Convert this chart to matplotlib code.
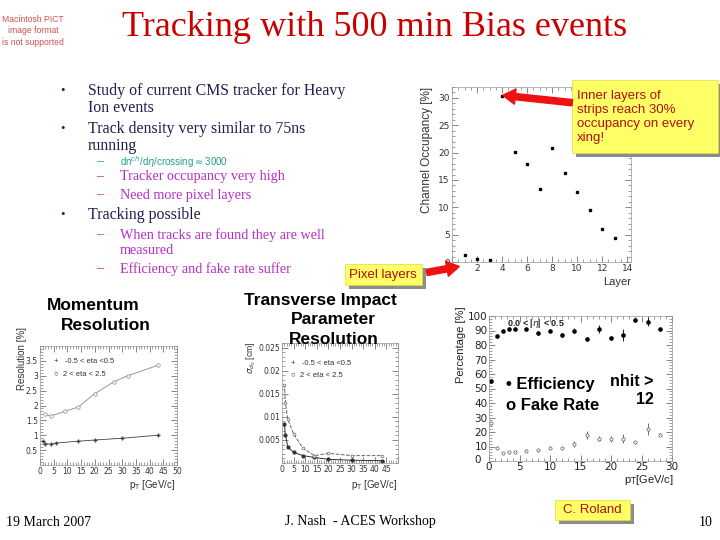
import numpy as np
import matplotlib.pyplot as plt
from matplotlib.patches import Rectangle, FancyArrowPatch
from matplotlib.transforms import ScaledTranslation

# ---- data ----
layers = [1, 2, 3, 4, 5, 6, 7, 8, 9, 10, 11, 12, 13]
occupancy = [1.2, 0.6, 0.3, 30.4, 20.1, 18.0, 13.4, 20.9, 16.3, 12.8, 9.5, 6.1, 4.4]

mom_pt_c = [1, 2, 4, 6, 14, 20, 30, 43]
mom_res_c = [0.80, 0.72, 0.70, 0.74, 0.80, 0.84, 0.90, 1.00]
mom_pt_f = [2, 4, 9, 14, 20, 27, 32, 43]
mom_res_f = [1.70, 1.65, 1.80, 1.95, 2.40, 2.80, 3.00, 3.35]

ip_pt = [1, 1.5, 2.5, 5, 9, 14, 20, 30, 43]
ip_res_c = [0.0085, 0.0060, 0.0035, 0.0023, 0.0016, 0.0012, 0.0008, 0.0006, 0.0005]
ip_res_f = [0.0170, 0.0130, 0.0095, 0.0063, 0.0032, 0.0016, 0.0021, 0.0016, 0.0016]

eff_pt = [0.25, 1.25, 2.25, 3.25, 4.25, 6, 8, 10, 12, 14, 16, 18, 20, 22, 24, 26, 28]
efficiency = [55, 86, 90, 91, 91, 91, 88, 90, 87, 90, 84, 91, 85, 87, 97, 96, 91]
eff_err = [1, 1, 0.5, 0.5, 0.5, 1, 1, 1, 1.5, 2, 1.5, 3, 1.5, 4, 1, 3, 1]
fake_rate = [26, 9, 5.5, 6, 6, 7, 7.5, 9, 9, 12, 18, 15.5, 15, 15.5, 13, 22, 18]
fake_err = [1, 1, 0.5, 0.5, 0.5, 1, 1, 1, 1, 2, 3, 2, 2, 3, 1, 4, 1]

bullets = [
    ("b", "Study of current CMS tracker for Heavy", 91),
    ("c", "Ion events", 108),
    ("b", "Track density very similar to 75ns", 129),
    ("c", "running", 146),
    ("s", "Tracker occupancy very high", 177),
    ("s", "Need more pixel layers", 195),
    ("b", "Tracking possible", 215),
    ("s", "When tracks are found they are well", 235),
    ("c2", "measured", 251),
    ("s", "Efficiency and fake rate suffer", 269),
]

W, H = 720, 540
fig = plt.figure(figsize=(7.2, 5.4), dpi=100)
fig.patch.set_facecolor("white")


def box(x0, y0, x1, y1):
    # pixel box (top-left origin) -> figure fraction rect
    return [x0 / W, 1 - y1 / H, (x1 - x0) / W, (y1 - y0) / H]


def ft(x, y, s, **kw):
    return fig.text(x / W, 1 - y / H, s, **kw)


def yellow(x0, y0, x1, y1):
    fig.add_artist(Rectangle((x0 / W + 4 / W, 1 - y1 / H - 4 / H), (x1 - x0) / W, (y1 - y0) / H,
                             transform=fig.transFigure, facecolor="#8c8c8c", edgecolor="none", zorder=4))
    fig.add_artist(Rectangle((x0 / W, 1 - y1 / H), (x1 - x0) / W, (y1 - y0) / H,
                             transform=fig.transFigure, facecolor="#ffff66", edgecolor="#dddd40",
                             lw=0.5, zorder=5))


def arrow(x0, y0, x1, y1):
    fig.add_artist(FancyArrowPatch((x0 / W, 1 - y0 / H), (x1 / W, 1 - y1 / H),
                                   transform=fig.transFigure, color="#ee1111", zorder=6,
                                   arrowstyle="simple,head_length=9,head_width=11,tail_width=4.5"))


def root_style(ax):
    ax.minorticks_on()
    ax.tick_params(which="both", direction="in", top=True, right=True,
                   labelsize=6, colors="#555555", labelcolor="#333333", pad=1.5)
    ax.tick_params(which="major", length=4, width=0.5)
    ax.tick_params(which="minor", length=2, width=0.4)
    for sp in ax.spines.values():
        sp.set_color("#999999")
        sp.set_linewidth(0.5)


serif = "Liberation Serif"
sans = "Liberation Sans"
navy = "#1f1f4f"
magenta = "#b52fc6"

# ---- header ----
ft(33, 31, "Macintosh PICT\nimage format\nis not supported", ha="center", va="center",
   fontsize=6.2, color="#d05050", family=sans, linespacing=1.4)
ft(375, 28, "Tracking with 500 min Bias events", ha="center", va="center",
   fontsize=26, color="#c80000", family=serif)

# ---- bullets ----
for kind, txt, y in bullets:
    if kind == "b":
        ft(63, y, "\u2022", ha="center", va="center", fontsize=9, color=navy, family=serif)
        ft(88, y, txt, va="center", fontsize=11.4, color=navy, family=serif)
    elif kind == "c":
        ft(88, y, txt, va="center", fontsize=11.4, color=navy, family=serif)
    elif kind == "s":
        ft(100, y, "\u2013", ha="center", va="center", fontsize=10, color=magenta, family=serif)
        ft(120, y, txt, va="center", fontsize=10.2, color=magenta, family=serif)
    else:
        ft(120, y, txt, va="center", fontsize=10.2, color=magenta, family=serif)
ft(100, 162, "\u2013", ha="center", va="center", fontsize=10, color="#229977", family=serif)
ft(120, 162, r"dn$^{ch}$/d$\eta$/crossing$\approx$3000", va="center", fontsize=7,
   color="#22a088", family=sans)

# ---- occupancy plot ----
ax1 = fig.add_axes(box(452, 87, 631, 262))
ax1.plot(layers, occupancy, "s", color="black", markersize=1.8)
ax1.set_xlim(0, 14.3)
ax1.set_ylim(0, 32)
ax1.set_xticks(np.arange(0, 15, 2))
ax1.set_yticks(np.arange(0, 31, 5))
root_style(ax1)
ax1.tick_params(labelsize=6.5)
ft(427, 150, "Channel Occupancy [%]", rotation=90, ha="center", va="center",
   fontsize=8.5, color="#333333", family=sans)
ft(631, 282, "Layer", ha="right", va="center", fontsize=8, color="#333333", family=sans)

yellow(572, 80, 718, 153)
ft(577, 117, "Inner layers of\nstrips reach 30%\noccupancy on every\nxing!", va="center",
   fontsize=9.5, color="#b01010", family=sans, linespacing=1.2, zorder=7)
arrow(575, 103, 500, 95)

yellow(345, 264, 422, 285)
ft(383, 275, "Pixel layers", ha="center", va="center", fontsize=9.5, color="#b01010",
   family=sans, zorder=7)
arrow(424, 273, 462, 266)

# ---- momentum resolution ----
ft(93, 306, "Momentum", ha="center", va="center", fontsize=12.5, weight="bold", family=sans)
ft(106, 326, "Resolution", ha="center", va="center", fontsize=12.5, weight="bold", family=sans)
ax2 = fig.add_axes(box(40, 346, 177, 465))
ax2.plot(mom_pt_c, mom_res_c, "-", color="#444444", lw=0.6, marker="+", markersize=3)
ax2.plot(mom_pt_f, mom_res_f, "-", color="#888888", lw=0.6, marker="o", markersize=2.5,
         markerfacecolor="white", markeredgewidth=0.5)
ax2.set_xlim(0, 50)
ax2.set_ylim(0, 4.0)
ax2.set_xticks(np.arange(0, 51, 5))
ax2.set_yticks(np.arange(0.5, 3.6, 0.5))
ax2.set_yticklabels(["0.5", "1", "1.5", "2", "2.5", "3", "3.5"])
root_style(ax2)
ax2.tick_params(labelsize=5.5)
ax2.text(0.1, 0.87, "+   -0.5 < eta <0.5", transform=ax2.transAxes, fontsize=5.5,
         va="center", color="#333333", family=sans)
ax2.text(0.1, 0.76, "\u25cb  2 < eta < 2.5", transform=ax2.transAxes, fontsize=5.5,
         va="center", color="#333333", family=sans)
ft(22, 358, "Resolution [%]", rotation=90, ha="center", va="center", fontsize=7,
   color="#333333", family=sans)
ft(176, 485, r"p$_{\rm T}$ [GeV/c]", ha="right", va="center", fontsize=7, color="#333333",
   family=sans)

# ---- transverse impact parameter ----
ax3 = fig.add_axes(box(282, 343, 398, 463))
ax3.plot(ip_pt, ip_res_c, "-", color="#333333", lw=0.7, marker="o", markersize=2)
ax3.plot(ip_pt, ip_res_f, "--", color="#666666", lw=0.7, marker="o", markersize=2,
         markerfacecolor="white", markeredgewidth=0.5)
ax3.set_xlim(0, 50)
ax3.set_ylim(0, 0.026)
ax3.set_xticks(np.arange(0, 51, 5))
ax3.set_xticklabels([str(v) for v in range(0, 46, 5)] + [""])
ax3.set_yticks([0.005, 0.01, 0.015, 0.02, 0.025])
ax3.set_yticklabels(["0.005", "0.01", "0.015", "0.02", "0.025"])
root_style(ax3)
ax3.tick_params(labelsize=5.5)
ax3.text(0.08, 0.83, "+   -0.5 < eta <0.5", transform=ax3.transAxes, fontsize=5.5,
         va="center", color="#333333", family=sans)
ax3.text(0.08, 0.73, "\u25cb  2 < eta < 2.5", transform=ax3.transAxes, fontsize=5.5,
         va="center", color="#333333", family=sans)
ft(251, 358, r"$\sigma_{d_0}$ [cm]", rotation=90, ha="center", va="center", fontsize=6.2,
   color="#333333", family=sans)
ft(398, 485, r"p$_{\rm T}$ [GeV/c]", ha="right", va="center", fontsize=7, color="#333333",
   family=sans)
ft(320, 301, "Transverse Impact", ha="center", va="center", fontsize=12.5, weight="bold",
   family=sans)
ft(333, 320, "Parameter", ha="center", va="center", fontsize=12.5, weight="bold", family=sans)
ft(334, 339, "Resolution", ha="center", va="center", fontsize=12.5, weight="bold", family=sans)

# ---- efficiency / fake rate ----
ax4 = fig.add_axes(box(489, 316, 672, 461))
ax4.errorbar(eff_pt, efficiency, yerr=eff_err, fmt="o", color="black", markersize=2.3,
             elinewidth=0.6, capsize=0)
ax4.errorbar(eff_pt, fake_rate, yerr=fake_err, fmt="o", color="#555555", markersize=2.3,
             markerfacecolor="white", markeredgewidth=0.5, elinewidth=0.6, capsize=0)
ax4.set_xlim(0, 30)
ax4.set_ylim(0, 100)
ax4.set_xticks(np.arange(0, 31, 5))
ax4.set_yticks(np.arange(0, 101, 10))
root_style(ax4)
ax4.tick_params(labelsize=7.5, labelcolor="#222222", pad=1)
# the two corner zeros sit apart, as on the slide
y0lab = ax4.get_yticklabels()[0]
y0lab.set_transform(y0lab.get_transform() + ScaledTranslation(-5 / 72, 1.5 / 72, fig.dpi_scale_trans))
ft(507, 323, r"0.0 < |$\eta$| < 0.5", va="center", fontsize=6.5, weight="bold",
   color="#222222", family=sans)
ft(506, 384, "\u2022 Efficiency", va="center", fontsize=12, weight="bold", family=sans)
ft(506, 406, "o Fake Rate", va="center", fontsize=12, weight="bold", family=sans)
ft(610, 382, "nhit >", va="center", fontsize=11.5, weight="bold", family=sans)
ft(654, 400, "12", ha="right", va="center", fontsize=11.5, weight="bold", family=sans)
ft(461, 345, "Percentage [%]", rotation=90, ha="center", va="center", fontsize=8,
   color="#222222", family=sans)
ft(674, 480, r"p$_{\rm T}$[GeV/c]", ha="right", va="center", fontsize=8, color="#222222",
   family=sans)

# ---- footer ----
ft(6, 522, "19 March 2007", va="center", fontsize=10, color="black", family=serif)
ft(360, 522, "J. Nash  - ACES Workshop", ha="center", va="center", fontsize=10,
   color="black", family=serif)
yellow(555, 500, 630, 520)
ft(592, 510, "C. Roland", ha="center", va="center", fontsize=9.5, color="#b01010",
   family=sans, zorder=7)
ft(713, 522, "10", ha="right", va="center", fontsize=10, color="black", family=serif)

fig.savefig("out.png", dpi=100)
